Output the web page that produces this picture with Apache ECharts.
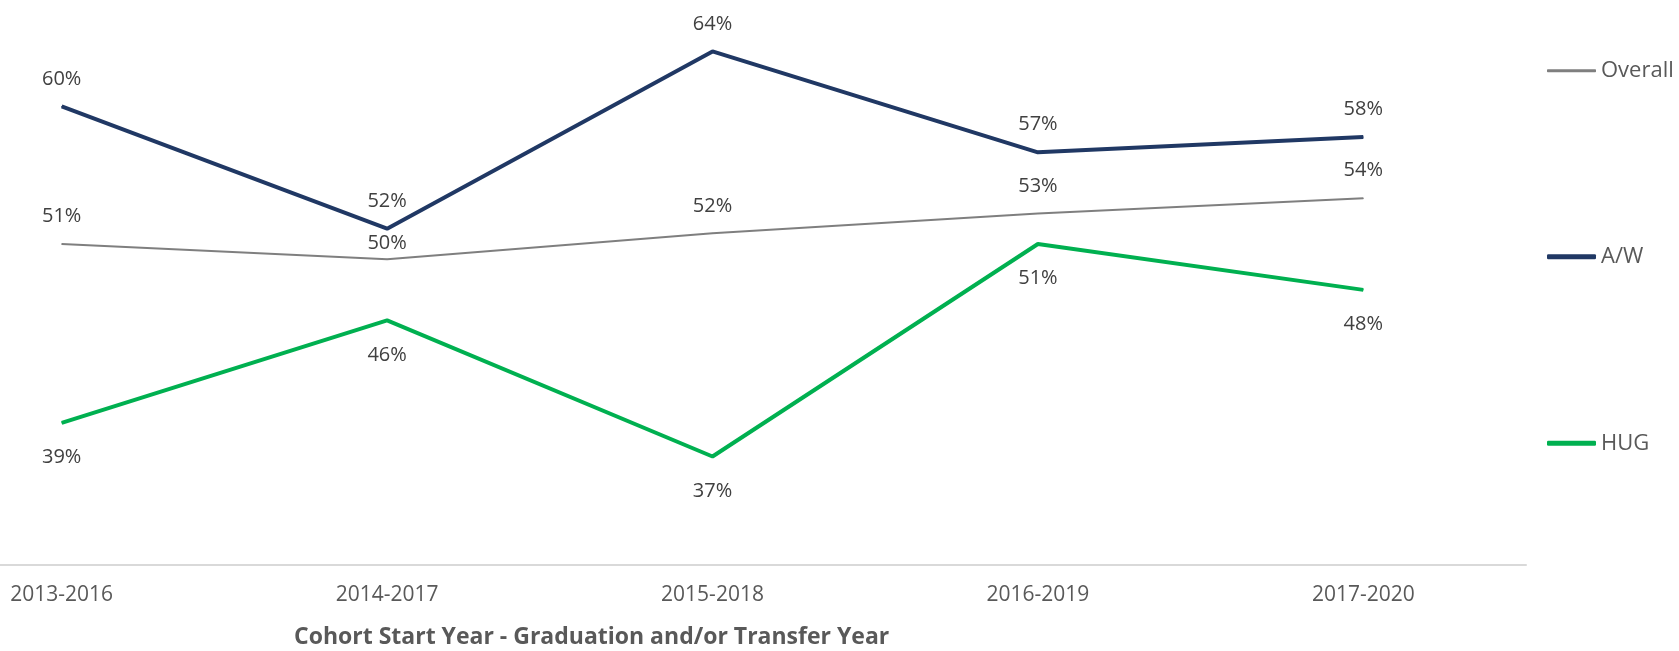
<!DOCTYPE html>
<html>
<head>
<meta charset="utf-8">
<script src="https://cdn.jsdelivr.net/npm/echarts@6/dist/echarts.min.js"></script>
<style>
  html, body { margin: 0; padding: 0; background: #fff; }
  #wrap { width: 1679px; height: 651px; overflow: hidden; position: relative; }
  /* plot area starts left of the visible page, like the cropped original */
  #chart { width: 1780px; height: 651px; position: absolute; left: -101px; top: 0; }
</style>
</head>
<body>
<div id="wrap"><div id="chart"></div></div>
<script>
const cohorts = ["2013-2016", "2014-2017", "2015-2018", "2016-2019", "2017-2020"];
const overall = [51, 50, 51.7, 53, 54];
const aw = [60, 52, 63.6, 57, 58];
const hug = [39.3, 46, 37.1, 51, 48];
const axisTitle = "Cohort Start Year - Graduation and/or Transfer Year";

const OFF = 101; // shift of the chart div
const chart = echarts.init(document.getElementById("chart"));

const pct = (p) => Math.round(p.value) + "%";
const labelStyle = (pos, dist) => ({
  show: true,
  position: pos,
  distance: dist,
  formatter: pct,
  color: "#404040",
  fontFamily: "Open Sans",
  fontSize: 20,
  lineHeight: 20,
});

// one legend per series so they can sit at their own heights
const legendAt = (name, top, h) => ({
  data: [{ name: name, icon: "roundRect" }],
  orient: "vertical",
  left: 1547 + OFF,
  top: top,
  padding: 0,
  itemWidth: 49,
  itemHeight: h,
  itemGap: 0,
  selectedMode: false,
  textStyle: { color: "#595959", fontFamily: "Open Sans", fontSize: 22, lineHeight: 22 },
});

chart.setOption({
  backgroundColor: "#fff",
  animation: false,
  title: {
    text: axisTitle,
    left: 294 + OFF,
    top: 626,
    padding: 0,
    textStyle: { color: "#595959", fontFamily: "Open Sans", fontWeight: "bold", fontSize: 23 },
  },
  legend: [
    legendAt("Overall", 59.7, 3),
    legendAt("A/W", 245.7, 5),
    legendAt("HUG", 432.3, 5),
  ],
  grid: { left: 0, right: 153, top: 30, bottom: 86, containLabel: false },
  xAxis: {
    type: "category",
    data: cohorts,
    boundaryGap: true,
    axisLine: { show: true, lineStyle: { color: "#d9d9d9", width: 2 } },
    axisTick: { show: false },
    axisLabel: { color: "#595959", fontFamily: "Open Sans", fontSize: 21, margin: 20 },
  },
  yAxis: {
    type: "value",
    min: 30,
    max: 65,
    show: false,
    splitLine: { show: false },
  },
  series: [
    {
      name: "Overall",
      type: "line",
      data: overall.map((v, i) =>
        i === 1 ? { value: v, label: { distance: 5 } } : v
      ),
      symbol: "circle",
      symbolSize: 1,
      showAllSymbol: true,
      color: "#7f7f7f",
      lineStyle: { color: "#7f7f7f", width: 2 },
      label: labelStyle("top", 17),
    },
    {
      name: "A/W",
      type: "line",
      data: aw,
      symbol: "circle",
      symbolSize: 1,
      showAllSymbol: true,
      color: "#203864",
      lineStyle: { color: "#203864", width: 4 },
      label: labelStyle("top", 17),
    },
    {
      name: "HUG",
      type: "line",
      data: hug,
      symbol: "circle",
      symbolSize: 1,
      showAllSymbol: true,
      color: "#00b050",
      lineStyle: { color: "#00b050", width: 4 },
      label: labelStyle("bottom", 24),
    },
  ],
});
</script>
</body>
</html>
